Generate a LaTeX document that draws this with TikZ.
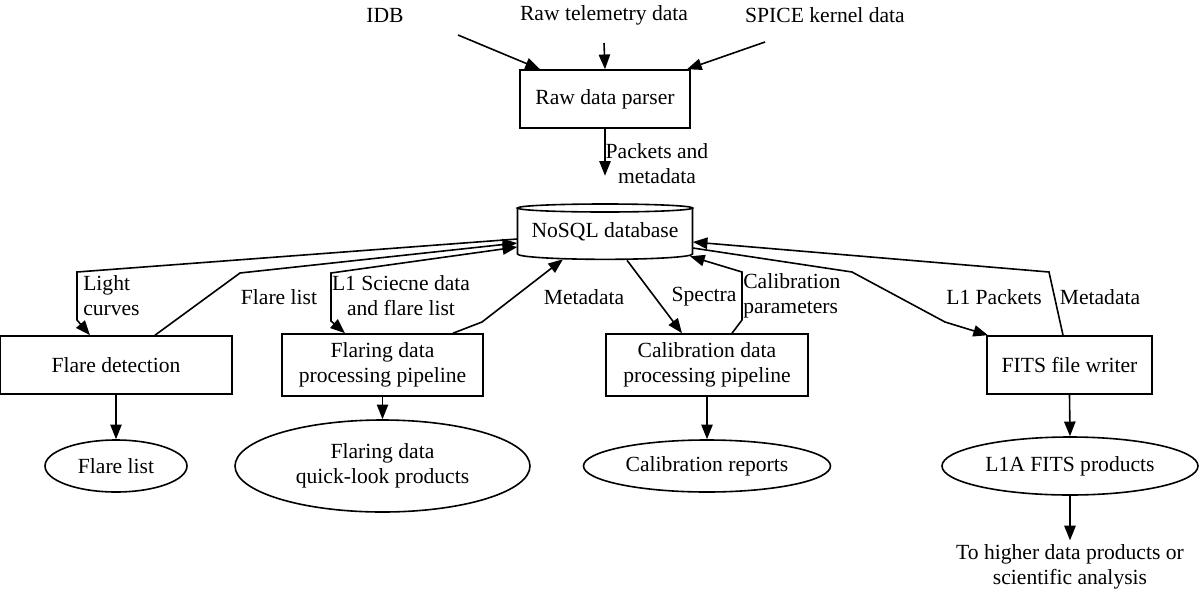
\documentclass[tikz,border=0pt]{standalone}
\usepackage{fontspec}
\setmainfont{Liberation Serif}
\usetikzlibrary{arrows.meta,calc,shapes.geometric}
\begin{document}
\begin{tikzpicture}[x=0.75pt,y=-0.75pt,
  every node/.style={font=\rmfamily\fontsize{16.2}{18.8}\selectfont},
  box/.style={draw,line width=1.2pt,inner sep=0pt,align=center},
  oval/.style={draw,ellipse,line width=1.2pt,inner sep=0pt,align=center},
  lbl/.style={inner sep=0pt,align=center},
  conn/.style={line width=1.2pt,-{Triangle[length=11pt,width=8.5pt]}},
  both/.style={line width=1.2pt,{Triangle[length=11pt,width=8.5pt]}-{Triangle[length=11pt,width=8.5pt]}},
  ]
\useasboundingbox (0,0) rectangle (1200,593);

% top inputs
\node[lbl] (idb) at (385,15) {IDB};
\node[lbl] (raw) at (604,15) {Raw telemetry data};
\node[lbl] (spice) at (825,15) {SPICE kernel data};
\coordinate (idbs) at (458,35);
\coordinate (raws) at (604,43);
\coordinate (spices) at (765,42);

% main nodes
\node[box,minimum width=127.5pt,minimum height=43.5pt] (parser) at (605,99) {Raw data parser};
\node[inner sep=0pt,minimum width=131.25pt,minimum height=42pt] (db) at (605,232) {NoSQL database};
\draw[line width=1.2pt] (605,208) ellipse [x radius=65.625pt, y radius=3pt];
\draw[line width=1.2pt] (517.5,208) -- (517.5,254)
   arc[start angle=180,end angle=360,x radius=65.625pt,y radius=4pt] -- (692.5,208);

\node[box,minimum width=174pt,minimum height=43.5pt] (fd) at (116,365) {Flare detection};
\node[box,minimum width=150.75pt,minimum height=46.5pt] (fp) at (382.5,365) {Flaring data\\processing pipeline};
\node[box,minimum width=151.5pt,minimum height=46.5pt] (cp) at (707,365) {Calibration data\\processing pipeline};
\node[box,minimum width=123.75pt,minimum height=43.5pt] (fits) at (1069.5,365) {FITS file writer};

\node[oval,minimum width=106.5pt,minimum height=39pt] (fl) at (116,466) {Flare list};
\node[oval,minimum width=221.25pt,minimum height=69pt] (ql) at (382.5,466) {Flaring data\\quick-look products};
\node[oval,minimum width=185.25pt,minimum height=39pt] (cr) at (707,466) {Calibration reports};
\node[oval,minimum width=192pt,minimum height=43.5pt] (l1a) at (1070,466) {L1A FITS products};
\node[lbl] (higher) at (1070,567) {To higher data products or\\scientific analysis};

% input edges
\draw[conn] (idbs) -- ($(parser.north)+(-65,0)$);
\draw[conn] (raws) -- (parser.north);
\draw[conn] (spices) -- ($(parser.north)+(82,0)$);

% parser -> db
\draw[conn] (parser.south) -- ($(db.north)+(0,-28)$) coordinate (dbtop);
\node[lbl] (lpk) at (657,164) {Packets and\\metadata};

% waypoints
\coordinate (w1) at (77,272);
\coordinate (w1b) at (77,320);
\coordinate (w2) at (240,273);
\coordinate (w3) at (331,273);
\coordinate (w3b) at (331,321);
\coordinate (w4) at (482,322);
\coordinate (w5) at (742,320);
\coordinate (w5b) at (742,272);
\coordinate (w6) at (852,272);
\coordinate (w6b) at (945,322);
\coordinate (w7) at (1049,272);

% db <-> left
\draw[conn] ($(db.west)+(0,7)$) -- (w1) -- (w1b) -- ($(fd.north)+(-26,0)$);
\draw[conn] ($(fd.north)+(39,0)$) -- (w2) -- ($(db.west)+(0,11)$);
\draw[both] ($(db.west)+(0,15)$) -- (w3) -- (w3b) -- ($(fp.north)+(-37.5,0)$);
\draw[conn] ($(fp.north)+(70.5,0)$) -- (w4) -- ($(db.south)+(-42,-1)$);

% db <-> right
\draw[conn] ($(db.south)+(22,0)$) -- ($(cp.north)+(-25,0)$);
\draw[conn] ($(cp.north)+(25,0)$) -- (w5) -- (w5b) -- ($(db.south)+(85,-4)$);
\draw[conn] ($(db.east)+(0,16)$) -- (w6) -- (w6b) -- ($(fits.north)+(-81.5,0)$);
\draw[conn] ($(fits.north)+(-6.5,0)$) -- (w7) -- ($(db.east)+(0,10)$);

% edge labels
\node[lbl,align=left,anchor=west] (llc) at (83,296) {Light\\curves};
\node[lbl] (lfl) at (279,297) {Flare list};
\node[lbl] (ll1) at (401,296) {L1 Sciecne data\\and flare list};
\node[lbl] (lmd1) at (584,297) {Metadata};
\node[lbl] (lsp) at (704,297) {Spectra};
\node[lbl,align=left,anchor=west] (lcal) at (743,296) {Calibration\\parameters};
\node[lbl] (ll1p) at (994,297) {L1 Packets};
\node[lbl] (lmd2) at (1100,297) {Metadata};

% downward edges
\draw[conn] (fd.south) -- (fl.north);
\draw[conn] (fp.south) -- (ql.north);
\draw[conn] (cp.south) -- (cr.north);
\draw[conn] (fits.south) -- (l1a.north);
\draw[conn] (l1a.south) -- ($(higher.north)+(0,-4)$);
\end{tikzpicture}
\end{document}
